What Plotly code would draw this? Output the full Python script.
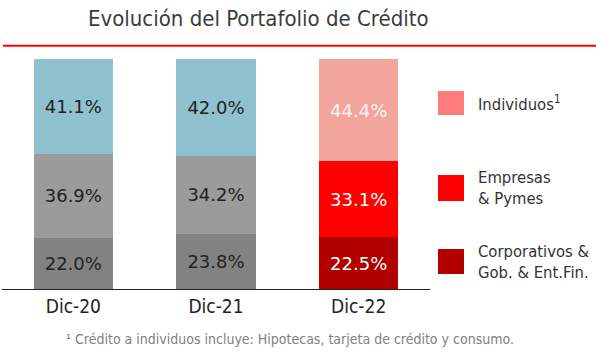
import plotly.graph_objects as go

categories = ["Dic-20", "Dic-21", "Dic-22"]
corporativos = [22.0, 23.8, 22.5]
empresas = [36.9, 34.2, 33.1]
individuos = [41.1, 42.0, 44.4]

legend_labels = ["Individuos<sup>1</sup>", "Empresas<br>& Pymes", "Corporativos &<br>Gob. & Ent.Fin."]
legend_colors = ["#FF7A7A", "#FF0000", "#B00000"]

title_text = "Evolución del Portafolio de Crédito"
footnote_text = "¹ Crédito a individuos incluye: Hipotecas, tarjeta de crédito y consumo."

W, H = 596, 354
L, R, T, B = 2, 166, 59, 65
PW = W - L - R
PH = H - T - B

def px_x(x):
    return (x - L) / PW

def px_y(y):
    return (H - B - y) / PH

NARROW = "DejaVu Sans Condensed, Liberation Sans Narrow, sans-serif"
WIDE = "DejaVu Sans, Verdana, sans-serif"

series = [
    (corporativos, ["#828282", "#828282", "#B00000"], ["#222222", "#222222", "#FFFFFF"]),
    (empresas, ["#9B9B9B", "#9B9B9B", "#FF0000"], ["#222222", "#222222", "#FFFFFF"]),
    (individuos, ["#8FC1CF", "#8FC1CF", "#F2A59A"], ["#222222", "#222222", "#FFF4F2"]),
]

fig = go.Figure()
for vals, colors, tcolors in series:
    fig.add_trace(go.Bar(
        x=categories, y=vals,
        marker=dict(color=colors, line=dict(width=0)),
        width=0.555,
        text=[f"{v:.1f}%" for v in vals],
        textposition="inside",
        insidetextanchor="middle",
        textangle=0,
        textfont=dict(family=WIDE, size=18, color=tcolors),
        showlegend=False,
        hoverinfo="skip",
    ))

shapes = [
    dict(type="line", xref="paper", yref="paper",
         x0=px_x(3), x1=px_x(596), y0=px_y(45.7), y1=px_y(45.7),
         line=dict(color="#FF0000", width=2)),
]
annotations = [
    dict(text=title_text, xref="paper", yref="paper", x=px_x(258), y=px_y(19),
         xanchor="center", yanchor="middle", showarrow=False,
         font=dict(family=NARROW, size=22, weight=500, color="#3C3C3C")),
    dict(text=footnote_text, xref="paper", yref="paper", x=px_x(290), y=px_y(339),
         xanchor="center", yanchor="middle", showarrow=False,
         font=dict(family=NARROW, size=14, color="#808080")),
]

legend_boxes = [(91, 115), (175, 201), (249, 274)]
for lab, col, (y0, y1) in zip(legend_labels, legend_colors, legend_boxes):
    shapes.append(dict(type="rect", xref="paper", yref="paper",
                       x0=px_x(438), x1=px_x(464), y0=px_y(y1), y1=px_y(y0),
                       fillcolor=col, line=dict(width=0)))
    annotations.append(dict(text=lab, xref="paper", yref="paper",
                            x=px_x(476), y=px_y((y0 + y1) / 2),
                            xanchor="left", yanchor="middle", align="left",
                            showarrow=False,
                            font=dict(family=NARROW, size=16.5, color="#333333")))

fig.update_layout(
    width=W, height=H,
    margin=dict(l=L, r=R, t=T, b=B),
    barmode="stack",
    paper_bgcolor="white", plot_bgcolor="white",
    xaxis=dict(showline=True, linecolor="#222222", linewidth=1, showgrid=False,
               ticks="", range=[-0.5, 2.5],
               tickfont=dict(family=NARROW, size=19, color="#222222")),
    yaxis=dict(visible=False, range=[0, 100]),
    shapes=shapes,
    annotations=annotations,
)

fig.write_html("out.html")
